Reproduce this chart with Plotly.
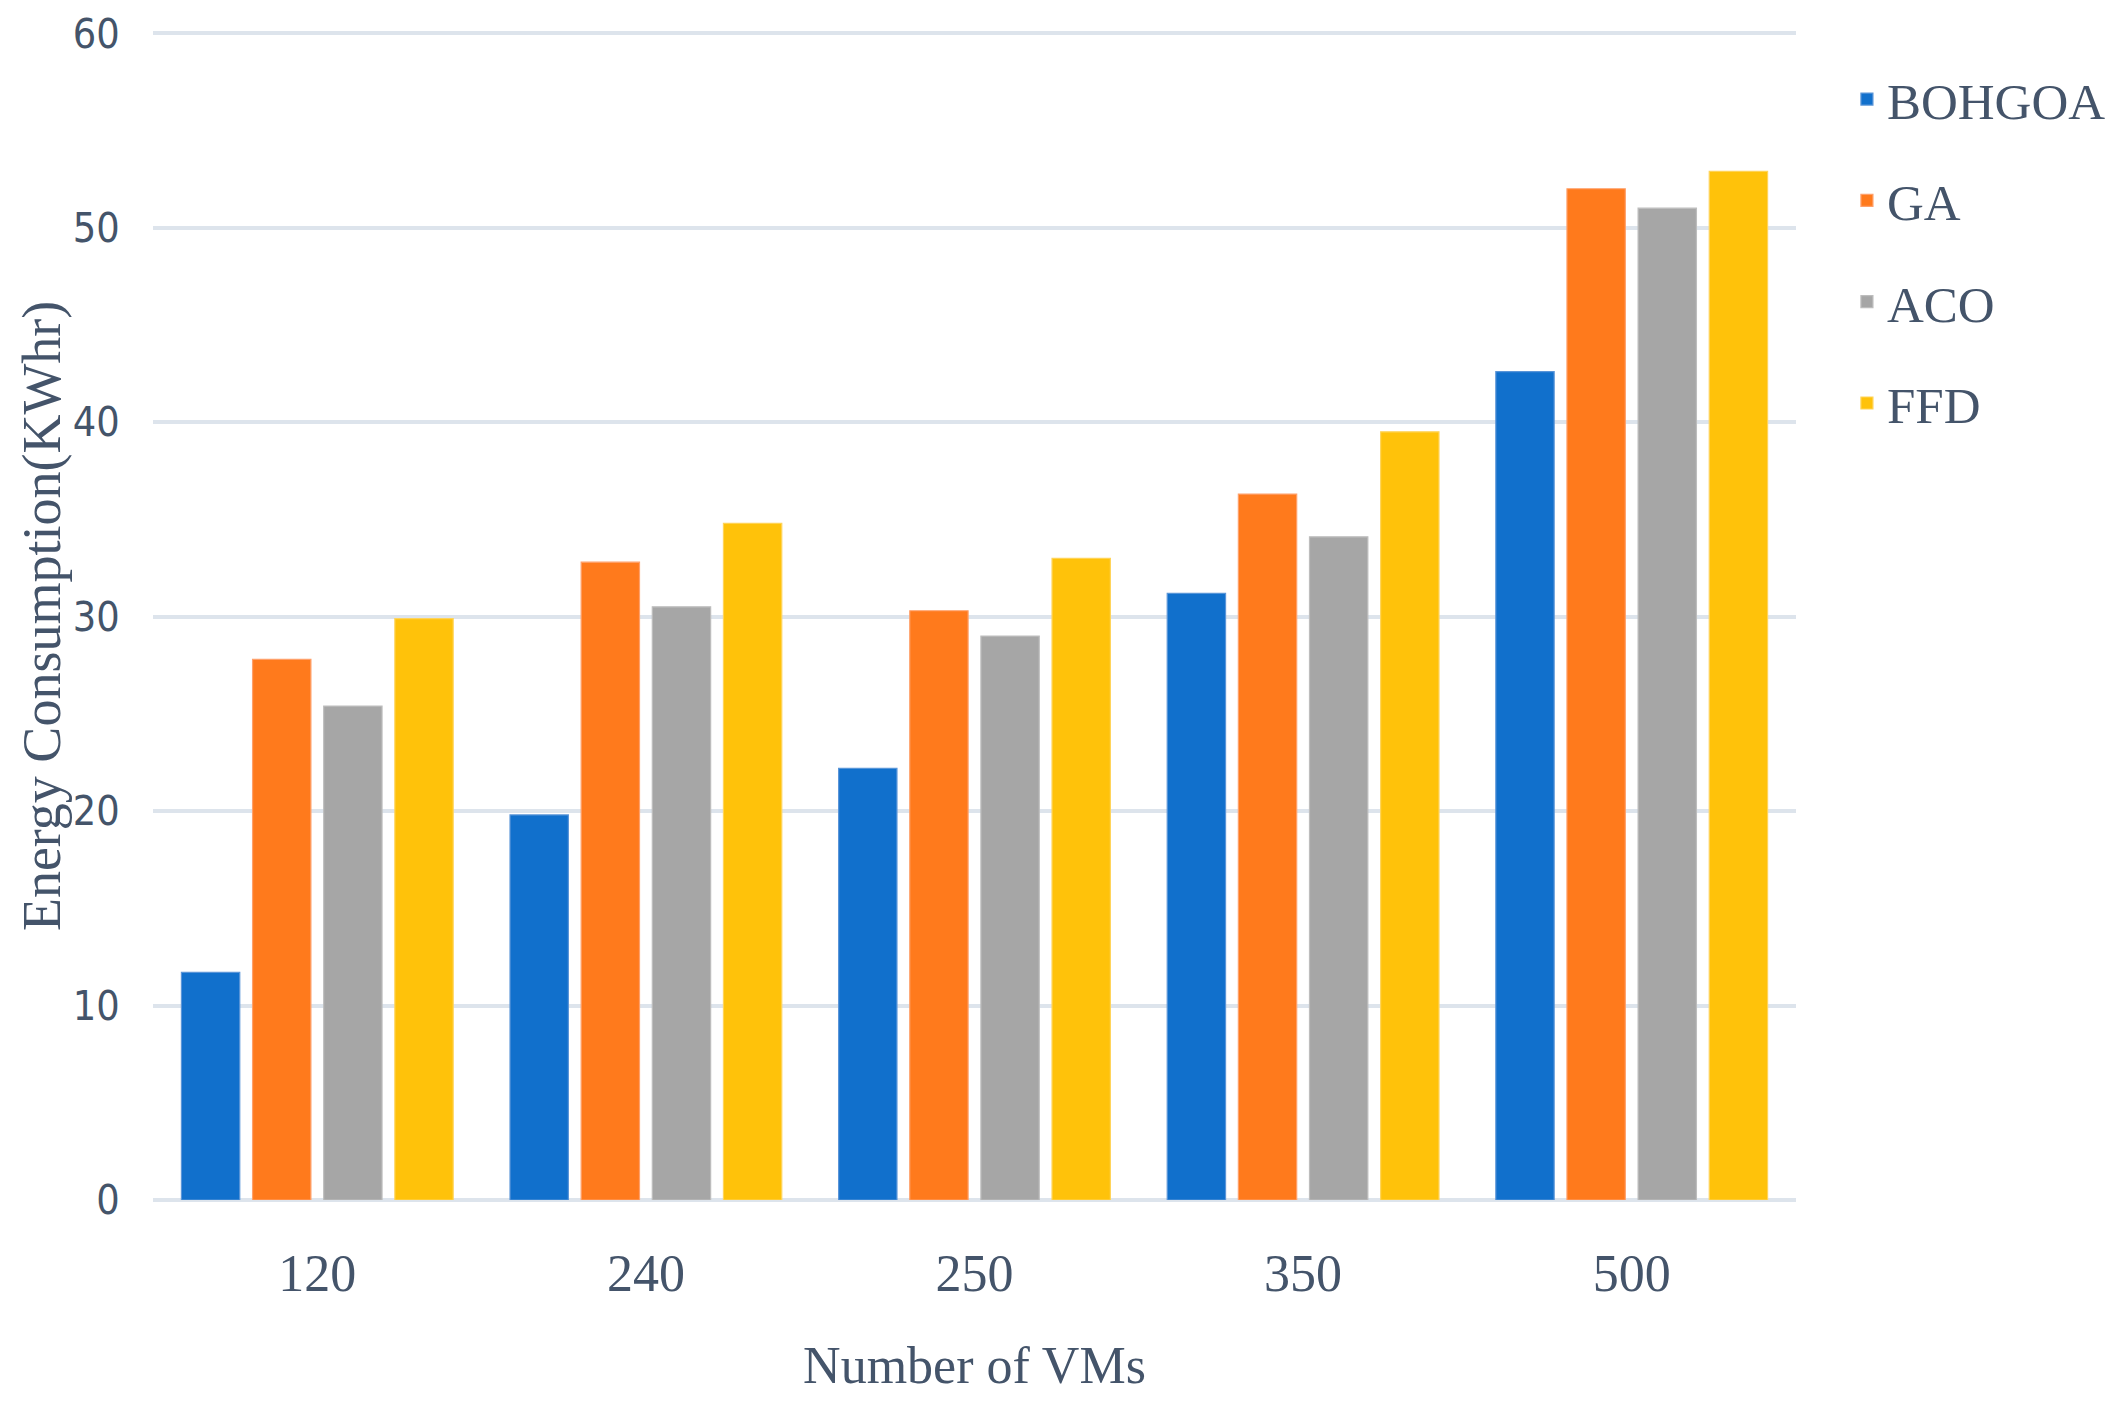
import plotly.graph_objects as go

categories = ["120", "240", "250", "350", "500"]
bohgoa = [11.7, 19.8, 22.2, 31.2, 42.6]
ga = [27.8, 32.8, 30.3, 36.3, 52.0]
aco = [25.4, 30.5, 29.0, 34.1, 51.0]
ffd = [29.9, 34.8, 33.0, 39.5, 52.9]
series_names = ["BOHGOA", "GA", "ACO", "FFD"]
colors = ["#1170cc", "#ff7a1c", "#a6a6a6", "#ffc20a"]
edge_colors = ["#5a95d8", "#ffa06a", "#bdbdbd", "#ffd45a"]
y_ticks = [0, 10, 20, 30, 40, 50, 60]

text_color = "#44546A"
serif = "Liberation Serif, Times New Roman, serif"
narrow = "Liberation Sans Narrow, DejaVu Sans Condensed, Liberation Sans, Arial, sans-serif"

fig = go.Figure()
for name, vals, col, edge in zip(series_names, [bohgoa, ga, aco, ffd], colors, edge_colors):
    fig.add_trace(go.Bar(
        x=categories, y=vals, name=name, legendgroup=name,
        marker=dict(color=col, line=dict(width=1.2, color=edge)),
    ))

fig.update_layout(
    width=2117, height=1405,
    paper_bgcolor="white", plot_bgcolor="white",
    margin=dict(l=145, r=329, t=24, b=213),
    barmode="group", bargap=0.134, bargroupgap=0.18,
    showlegend=True,
    legend=dict(
        x=1.031, y=0.9765, xanchor="left", yanchor="top",
        font=dict(family=serif, size=51, color=text_color),
        tracegroupgap=32, bgcolor="rgba(0,0,0,0)",
    ),
    xaxis=dict(
        type="category", categoryorder="array", categoryarray=categories,
        tickfont=dict(family=serif, size=52, color=text_color),
        ticks="outside", ticklen=28, tickcolor="rgba(0,0,0,0)",
        showline=False, showgrid=False, automargin=False,
        title=dict(text="Number of VMs", font=dict(family=serif, size=52, color=text_color), standoff=45),
    ),
    yaxis=dict(
        range=[0, 60.06], tickvals=y_ticks,
        tickfont=dict(family=narrow, size=41, color=text_color),
        ticks="outside", ticklen=24, tickcolor="rgba(0,0,0,0)",
        showgrid=True, gridcolor="#dde4ec", gridwidth=4,
        zeroline=True, zerolinecolor="#dde4ec", zerolinewidth=4,
        showline=False, automargin=False,
    ),
    annotations=[dict(
        text="Energy Consumption(KWhr)", textangle=-90,
        xref="paper", yref="paper", x=-0.0675, y=0.5,
        xanchor="center", yanchor="middle", showarrow=False,
        font=dict(family=serif, size=54, color=text_color),
    )],
)

fig.write_html("out.html")
